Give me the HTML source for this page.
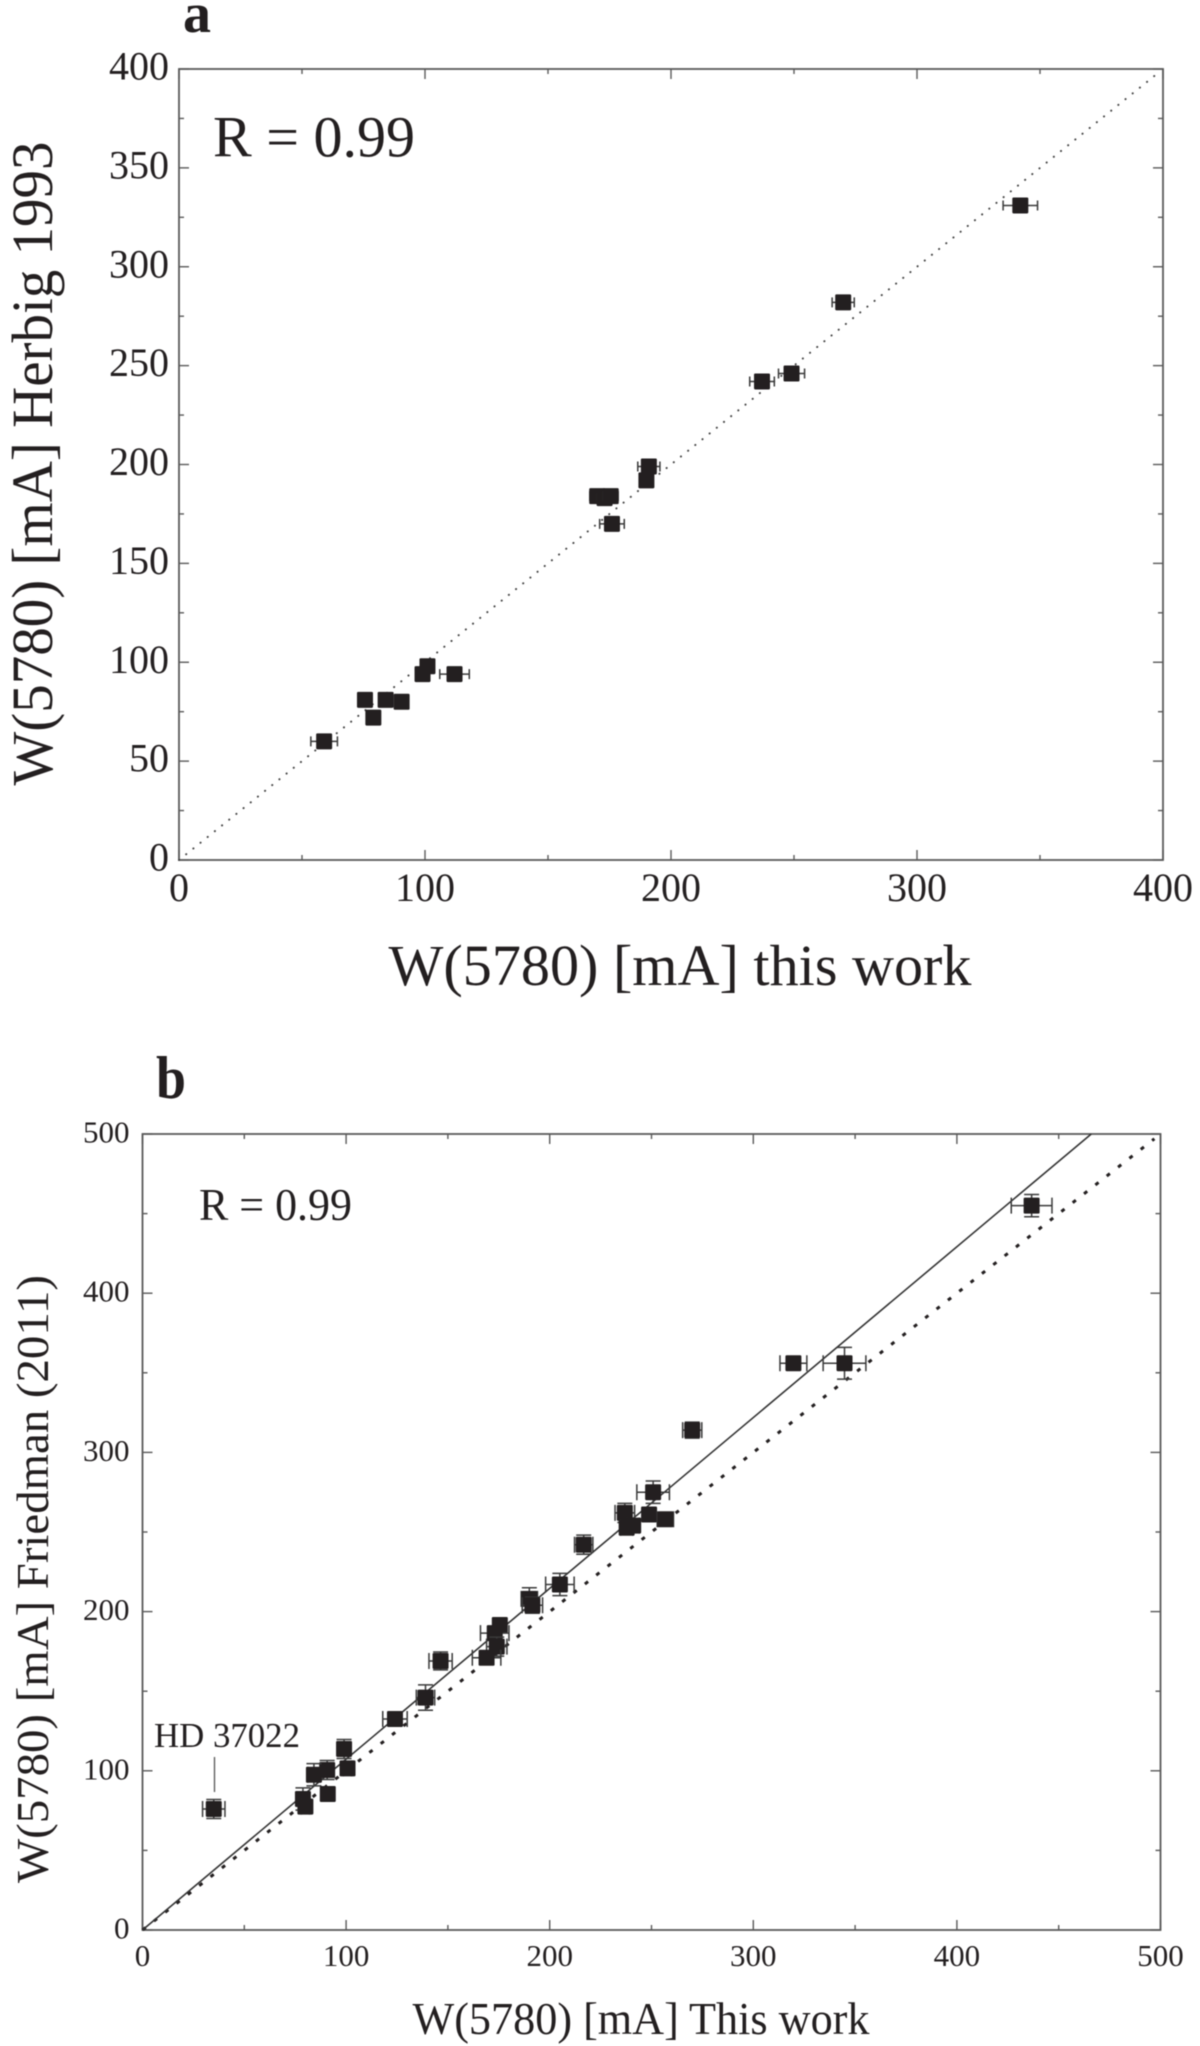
<!DOCTYPE html>
<html lang="en">
<head>
<meta charset="utf-8">
<title>W(5780) comparison charts</title>
<style>
html,body{margin:0;padding:0;background:#fff;}
body{width:1200px;height:2046px;overflow:hidden;}
svg{display:block;filter:blur(0.6px);}
text{font-family:"Liberation Serif",serif;fill:#231f20;}
</style>
</head>
<body>
<svg id="chart" xmlns="http://www.w3.org/2000/svg" width="1200" height="2046" viewBox="0 0 1200 2046">
  <rect x="0" y="0" width="1200" height="2046" fill="#fff"/>
  <g id="panel-a">
    <text x="183" y="32" font-size="56" font-weight="bold" textLength="28" lengthAdjust="spacingAndGlyphs">a</text>
    <text x="213" y="156.5" font-size="58" textLength="202" lengthAdjust="spacingAndGlyphs">R = 0.99</text>
    <text x="388.5" y="985" font-size="58" textLength="583" lengthAdjust="spacingAndGlyphs">W(5780) [mA] this work</text>
    <text transform="translate(52 785.5) rotate(-90)" font-size="58" textLength="644" lengthAdjust="spacingAndGlyphs">W(5780) [mA] Herbig 1993</text>
  </g>
  <g id="panel-b">
    <text x="156" y="1098" font-size="60" font-weight="bold" textLength="30" lengthAdjust="spacingAndGlyphs">b</text>
    <text x="199" y="1220" font-size="45" textLength="153" lengthAdjust="spacingAndGlyphs">R = 0.99</text>
    <text x="412.5" y="2034" font-size="46" textLength="457" lengthAdjust="spacingAndGlyphs">W(5780) [mA] This work</text>
    <text transform="translate(48 1883) rotate(-90)" font-size="46" textLength="608" lengthAdjust="spacingAndGlyphs">W(5780) [mA] Friedman (2011)</text>
    <text x="154" y="1747" font-size="35" textLength="146" lengthAdjust="spacingAndGlyphs">HD 37022</text>
    <line x1="214.5" y1="1757" x2="214.5" y2="1792" stroke="#555" stroke-width="1.3"/>
  </g>
</svg>
<script>
// Panel a: this work vs Herbig 1993
const aWork = [342, 270, 249, 237, 191, 190, 170, 173, 175.5, 176, 112, 99, 101, 90.5, 84, 75.6, 79, 59];
const aHerbig = [331, 282, 246, 242, 199, 192, 184, 183, 184, 170, 94, 94, 98, 80, 81, 81, 72, 60];
const aWorkErr = [7, 4.5, 5.3, 5, 4.5, 2, 3, 3, 3, 5, 6, 2, 2, 1, 1, 2, 1, 5.4];
const aHerbigErr = [2, 2, 2, 2, 2, 2, 2, 2, 2, 2, 2, 2, 2, 2, 2, 2, 2, 2];
const aRefLine = [0, 398];
const aXMajor = [0, 100, 200, 300, 400];
const aXMinor = [50, 150, 250, 350];
const aYMajor = [0, 50, 100, 150, 200, 250, 300, 350, 400];
const aYMinor = [25, 75, 125, 175, 225, 275, 325, 375];

// Panel b: this work vs Friedman 2011
const bWork = [436.7, 319.7, 344.8, 270, 250.8, 248.8, 256.8, 236.9, 237.8, 241, 216.7, 205, 190, 191.5, 175.5, 173, 174, 169, 146.4, 139, 124, 99, 100.7, 90.7, 84.2, 91, 78.8, 80, 35];
const bFriedman = [455, 356, 356, 314, 275, 261, 258, 262, 252.7, 254, 242, 217, 208, 204, 191.6, 186.5, 178, 171, 169, 146, 132.5, 113.7, 101.5, 100.5, 97.5, 85.4, 82.3, 77.5, 76];
const bWorkErr = [10, 6.6, 10.5, 4.7, 8, 3, 4, 4.8, 3, 3, 4.5, 7, 4, 5, 2, 7, 5, 7, 5.7, 4.5, 6, 2, 2, 2, 3, 2, 2, 2, 5.5];
const bFriedmanErr = [7, 3, 10, 5, 7, 4, 4, 6, 4, 4, 6, 7, 7, 5, 3, 4, 6, 3, 5.6, 8, 4, 6, 4, 6, 7, 3, 7, 3, 6];
const bFitLineX = [0, 466];
const bFitLineY = [0, 500];
const bRefLine = [0, 497];
const bXMajor = [0, 100, 200, 300, 400, 500];
const bXMinor = [50, 150, 250, 350, 450];
const bYMajor = [0, 100, 200, 300, 400, 500];
const bYMinor = [50, 150, 250, 350, 450];

const SVG_NS = 'http://www.w3.org/2000/svg';
const INK = '#231f20';
const AXIS = '#5a5a5a';

function add(parent, tag, attrs) {
  const el = document.createElementNS(SVG_NS, tag);
  for (const key in attrs) el.setAttribute(key, attrs[key]);
  parent.appendChild(el);
  return el;
}

function drawAxes(parent, box, xScale, yScale, xMajor, xMinor, yMajor, yMinor, fontSize, xBase, yRight, yOffset, prefix) {
  const frame = add(parent, 'rect', {x: box.left, y: box.top, width: box.right - box.left, height: box.bottom - box.top, fill: 'none', stroke: AXIS, 'stroke-width': 1.8});
  
  

  [[xMajor, 10], [xMinor, 5]].forEach(function (set) {
    set[0].forEach(function (v) {
      const x = xScale(v);
      const bottom = add(parent, 'line', {x1: x, x2: x, y1: box.bottom, y2: box.bottom - set[1], stroke: AXIS, 'stroke-width': 1.4});
      
      
      const top = add(parent, 'line', {x1: x, x2: x, y1: box.top, y2: box.top + set[1], stroke: AXIS, 'stroke-width': 1.4});
      
      
    });
  });
  [[yMajor, 10], [yMinor, 5]].forEach(function (set) {
    set[0].forEach(function (v) {
      const y = yScale(v);
      const left = add(parent, 'line', {x1: box.left, x2: box.left + set[1], y1: y, y2: y, stroke: AXIS, 'stroke-width': 1.4});
      
      
      const right = add(parent, 'line', {x1: box.right, x2: box.right - set[1], y1: y, y2: y, stroke: AXIS, 'stroke-width': 1.4});
      
      
    });
  });
  xMajor.forEach(function (v) {
    const label = add(parent, 'text', {x: xScale(v), y: xBase, 'font-size': fontSize, 'text-anchor': 'middle'});
    
    
    label.textContent = String(v);
  });
  yMajor.forEach(function (v) {
    const label = add(parent, 'text', {x: yRight, y: yScale(v) + yOffset, 'font-size': fontSize, 'text-anchor': 'end'});
    
    
    label.textContent = String(v);
  });
}

function drawPoints(parent, xs, ys, xErr, yErr, xScale, yScale, size, capX, capY, prefix) {
  xs.forEach(function (v, i) {
    const g = add(parent, 'g', {});
    
    
    const cx = xScale(v);
    const cy = yScale(ys[i]);
    const x0 = xScale(v - xErr[i]);
    const x1 = xScale(v + xErr[i]);
    const y0 = yScale(ys[i] - yErr[i]);
    const y1 = yScale(ys[i] + yErr[i]);
    const style = {stroke: '#3a3a3a', 'stroke-width': 1.5};
    const xBar = add(g, 'path', Object.assign({d: 'M' + x0 + ' ' + (cy - capX) + 'V' + (cy + capX) + 'M' + x0 + ' ' + cy + 'H' + x1 + 'M' + x1 + ' ' + (cy - capX) + 'V' + (cy + capX), fill: 'none'}, style));
    
    
    const yBar = add(g, 'path', Object.assign({d: 'M' + (cx - capY) + ' ' + y0 + 'H' + (cx + capY) + 'M' + cx + ' ' + y0 + 'V' + y1 + 'M' + (cx - capY) + ' ' + y1 + 'H' + (cx + capY), fill: 'none'}, style));
    
    
    const marker = add(g, 'rect', {x: cx - size / 2, y: cy - size / 2, width: size, height: size, rx: 1.2, fill: INK});
    
    
  });
}

// Panel a
const panelA = document.getElementById('panel-a');
const boxA = {left: 179, right: 1163, top: 69, bottom: 860};
const xA = function (v) { return boxA.left + v / 400 * (boxA.right - boxA.left); };
const yA = function (v) { return boxA.bottom - v / 400 * (boxA.bottom - boxA.top); };
drawAxes(panelA, boxA, xA, yA, aXMajor, aXMinor, aYMajor, aYMinor, 40, 901, 169, 10.5, 'panel-a');
const aRef = add(panelA, 'line', {x1: xA(aRefLine[0]), y1: yA(aRefLine[0]), x2: xA(aRefLine[1]), y2: yA(aRefLine[1]), stroke: '#444', 'stroke-width': 2, 'stroke-linecap': 'round', 'stroke-dasharray': '0.1 9.1'});


drawPoints(panelA, aWork, aHerbig, aWorkErr, aHerbigErr, xA, yA, 16, 5, 5, 'panel-a');

// Panel b
const panelB = document.getElementById('panel-b');
const boxB = {left: 142.5, right: 1160.5, top: 1134, bottom: 1930};
const xB = function (v) { return boxB.left + v / 500 * (boxB.right - boxB.left); };
const yB = function (v) { return boxB.bottom - v / 500 * (boxB.bottom - boxB.top); };
drawAxes(panelB, boxB, xB, yB, bXMajor, bXMinor, bYMajor, bYMinor, 31, 1966, 129.5, 8.5, 'panel-b');
const bRef = add(panelB, 'line', {x1: xB(bRefLine[0]), y1: yB(bRefLine[0]), x2: xB(bRefLine[1]), y2: yB(bRefLine[1]), stroke: INK, 'stroke-width': 3, 'stroke-dasharray': '4 10.4'});


const bFit = add(panelB, 'line', {x1: xB(bFitLineX[0]), y1: yB(bFitLineY[0]), x2: xB(bFitLineX[1]), y2: yB(bFitLineY[1]), stroke: '#333', 'stroke-width': 1.6});


drawPoints(panelB, bWork, bFriedman, bWorkErr, bFriedmanErr, xB, yB, 16, 8, 7.5, 'panel-b');
</script>
</body>
</html>
